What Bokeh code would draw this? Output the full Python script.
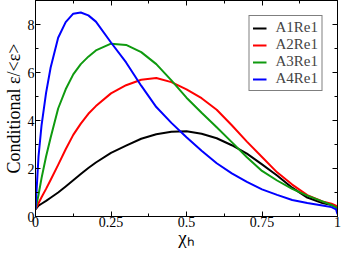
from bokeh.plotting import figure
from bokeh.models import LinearAxis, FixedTicker, Range1d, Legend, LegendItem
from bokeh.embed import file_html
from bokeh.resources import INLINE

x = [0, 0.01, 0.02, 0.035, 0.05, 0.075, 0.1, 0.125, 0.15, 0.175, 0.2, 0.25, 0.3,
     0.35, 0.4, 0.45, 0.5, 0.55, 0.6, 0.65, 0.7, 0.75, 0.8, 0.85, 0.9, 0.95,
     0.98, 0.995, 1.0]

a1re1 = [0.3, 0.45, 0.53, 0.65, 0.78, 1.0, 1.25, 1.51, 1.77, 2.02, 2.25, 2.65, 2.95,
         3.24, 3.43, 3.53, 3.55, 3.45, 3.26, 2.97, 2.62, 2.17, 1.71, 1.2, 0.79, 0.56,
         0.48, 0.4, 0.2]
a2re1 = [0.3, 0.55, 0.8, 1.15, 1.52, 2.15, 2.8, 3.4, 3.87, 4.28, 4.6, 5.13, 5.47,
         5.7, 5.77, 5.6, 5.3, 4.93, 4.45, 3.8, 3.12, 2.48, 1.84, 1.33, 0.89, 0.63,
         0.53, 0.45, 0.3]
a3re1 = [0.3, 0.9, 1.6, 2.5, 3.28, 4.5, 5.3, 5.92, 6.35, 6.66, 6.92, 7.2, 7.15,
         6.85, 6.35, 5.67, 4.95, 4.32, 3.72, 3.1, 2.47, 1.9, 1.5, 1.15, 0.87, 0.63,
         0.48, 0.38, 0.2]
a4re1 = [0.3, 2.5, 3.8, 5.15, 6.2, 7.45, 8.1, 8.45, 8.5, 8.38, 8.12, 7.25, 6.42,
         5.45, 4.56, 3.9, 3.3, 2.74, 2.22, 1.8, 1.44, 1.13, 0.9, 0.69, 0.56, 0.46,
         0.39, 0.3, 0.1]

series_names = ["A1Re1", "A2Re1", "A3Re1", "A4Re1"]
series_colors = ["#000000", "#ff0000", "#0f9a0f", "#0000ff"]

x_ticks = [0, 0.25, 0.5, 0.75, 1]
x_minor = [0.125, 0.375, 0.625, 0.875]
x_tick_labels = {0: "0", 0.25: "0.25", 0.5: "0.5", 0.75: "0.75", 1: "1"}
y_ticks = [0, 2, 4, 6, 8]
y_minor = [1, 3, 5, 7]

FONT = "Liberation Serif"

p = figure(width=341, height=250, output_backend="svg", toolbar_location=None,
           x_range=Range1d(0, 1), y_range=Range1d(0, 9),
           min_border_left=0, min_border_right=4, min_border_top=0,
           min_border_bottom=0, x_axis_type=None, y_axis_type=None)
p.grid.visible = False
p.outline_line_color = "black"
p.outline_line_width = 1
p.background_fill_color = "white"
p.border_fill_color = "white"


def make_axis(ticks, minor, show_labels, **kw):
    ax = LinearAxis(**kw)
    ax.ticker = FixedTicker(ticks=ticks, minor_ticks=minor)
    ax.axis_line_color = "black"
    ax.major_tick_in = 5
    ax.major_tick_out = 0
    ax.minor_tick_in = 3
    ax.minor_tick_out = 0
    ax.major_tick_line_color = "black"
    ax.minor_tick_line_color = "black"
    ax.major_label_text_font = FONT
    ax.major_label_text_color = "black"
    ax.axis_label_text_color = "black"
    if show_labels:
        ax.major_label_text_font_size = "14px"
        ax.major_label_standoff = 1
    else:
        ax.major_label_overrides = {t: "" for t in ticks}
        ax.major_label_text_font_size = "1px"
        ax.major_label_standoff = 0
    return ax


xb = make_axis(x_ticks, x_minor, True, axis_label="χₕ", axis_label_text_font=FONT,
               axis_label_text_font_size="19px", axis_label_text_font_style="normal",
               axis_label_standoff=-3)
xb.major_label_overrides = x_tick_labels
xb.major_label_standoff = 0
p.add_layout(xb, "below")
p.add_layout(make_axis(x_ticks, x_minor, False), "above")

yl = make_axis(y_ticks, y_minor, True, axis_label="Conditional ε/<ε>",
               axis_label_text_font=FONT, axis_label_text_font_size="18px",
               axis_label_text_font_style="normal", axis_label_standoff=1)
p.add_layout(yl, "left")
p.add_layout(make_axis(y_ticks, y_minor, False), "right")

ys = [a1re1, a2re1, a3re1, a4re1]
items = []
for name, col, yv in zip(series_names, series_colors, ys):
    r = p.line(x, yv, line_color=col, line_width=2, line_join="round")
    items.append(LegendItem(label=name, renderers=[r]))

legend = Legend(items=items, location="top_right")
legend.border_line_color = "black"
legend.border_line_width = 1
legend.background_fill_alpha = 1
legend.label_text_font = FONT
legend.label_text_font_size = "15px"
legend.label_height = 14
legend.glyph_height = 14
legend.glyph_width = 14
legend.spacing = 0
legend.padding = 3
legend.label_standoff = 9
legend.margin = 15
p.add_layout(legend, "center")

open("out.html", "w").write(file_html(p, INLINE))
